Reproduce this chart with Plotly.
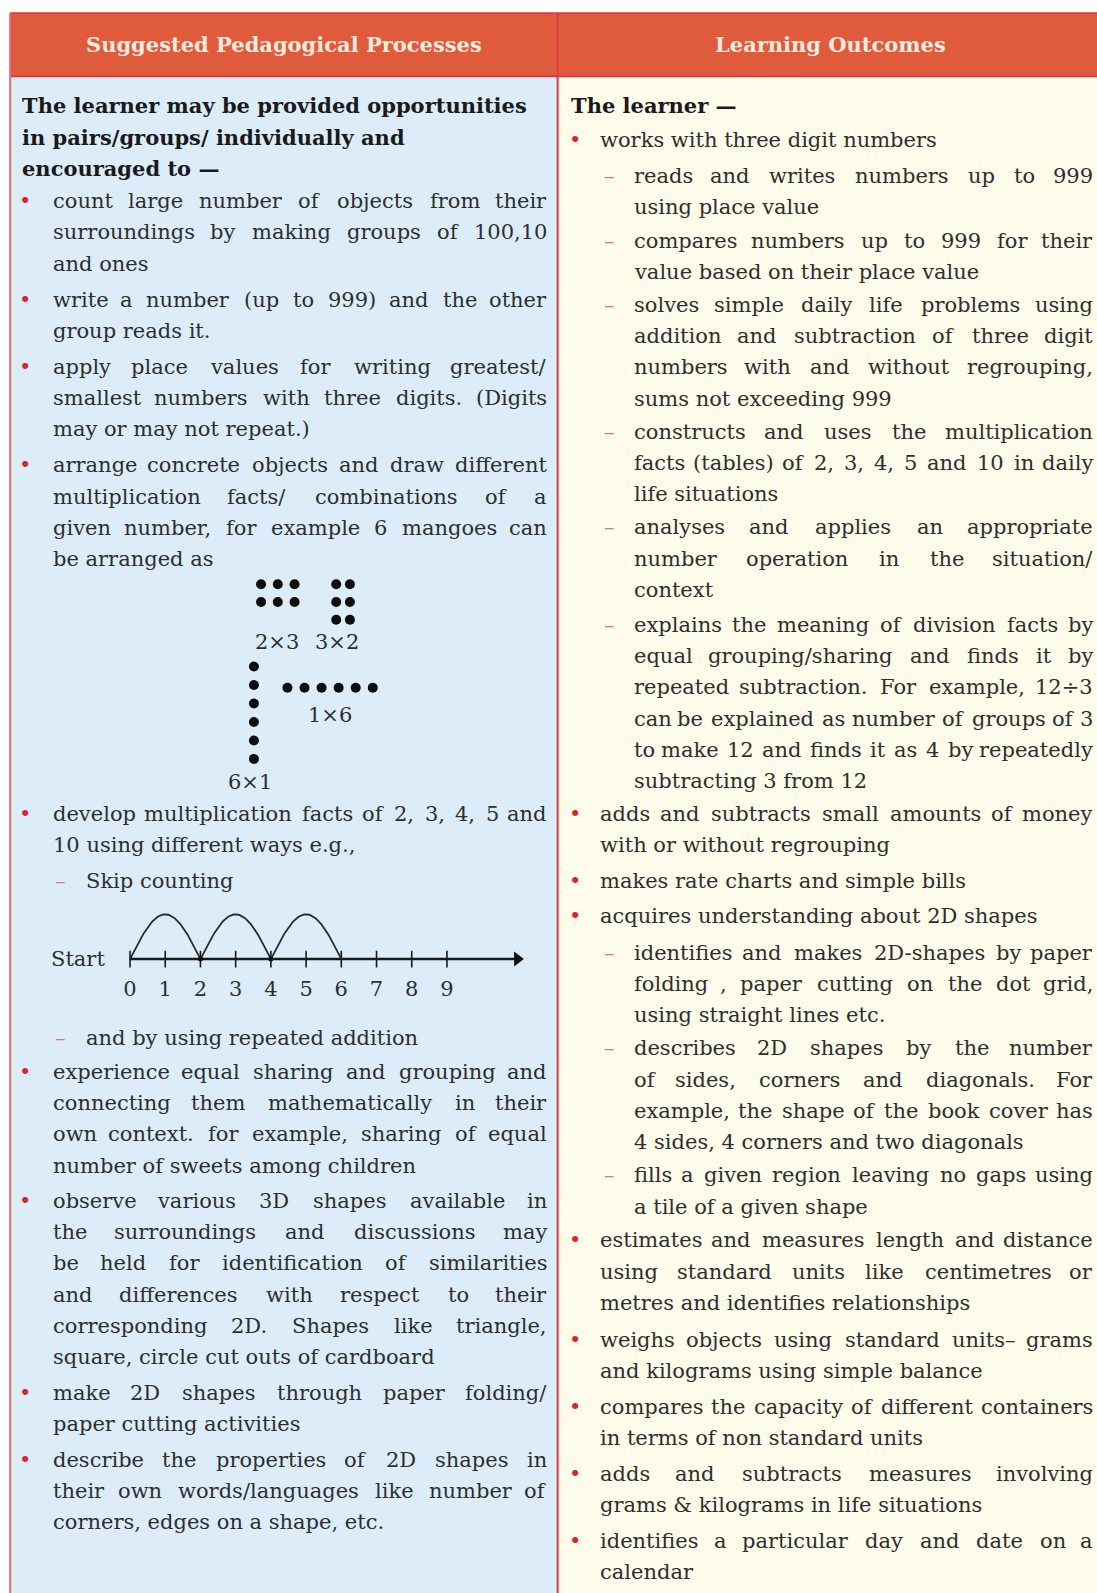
import numpy as np
import plotly.graph_objects as go

# reference units: the page is laid out on a 1080 x 1568 grid (drawn at 1097 x 1593)
W, H = 1080, 1568
PX = 1097 / 1080          # screen px per reference unit

FONT = "DejaVu Serif"
FS = 21
TEXT = "#2e2e2e"
BOLD_TEXT = "#1a1a1a"
BULLET = "#d7262d"
DASH = "#e2727a"
RED = "#dc3b3f"
HEAD = "#e05a3c"
LEFT_BG = "#dcedf9"
RIGHT_BG = "#fdfbea"

header_left = "Suggested Pedagogical Processes"
header_right = "Learning Outcomes"

left_intro = ["The learner may be provided opportunities",
              "in pairs/groups/ individually and",
              "encouraged to —"]

# (kind, y of first line, lines)
left_items = [
    ("bullet", 198, ["count large number of objects from their",
                     "surroundings by making groups of 100,10",
                     "and ones"]),
    ("bullet", 295, ["write a number (up to 999) and the other",
                     "group reads it."]),
    ("bullet", 361, ["apply place values for writing greatest/",
                     "smallest numbers with three digits. (Digits",
                     "may or may not repeat.)"]),
    ("bullet", 458, ["arrange concrete objects and draw different",
                     "multiplication facts/ combinations of a",
                     "given number, for example 6 mangoes can",
                     "be arranged as"]),
    ("bullet", 801, ["develop multiplication facts of 2, 3, 4, 5 and",
                     "10 using different ways e.g.,"]),
    ("dash", 867, ["Skip counting"]),
    ("dash", 1022, ["and by using repeated addition"]),
    ("bullet", 1055, ["experience equal sharing and grouping and",
                      "connecting them mathematically in their",
                      "own context. for example, sharing of equal",
                      "number of sweets among children"]),
    ("bullet", 1182, ["observe various 3D shapes available in",
                      "the surroundings and discussions may",
                      "be held for identification of similarities",
                      "and differences with respect to their",
                      "corresponding 2D. Shapes like triangle,",
                      "square, circle cut outs of cardboard"]),
    ("bullet", 1371, ["make 2D shapes through paper folding/",
                      "paper cutting activities"]),
    ("bullet", 1437, ["describe the properties of 2D shapes in",
                      "their own words/languages like number of",
                      "corners, edges on a shape, etc."]),
]

right_intro = ["The learner —"]

right_items = [
    ("bullet", 138, ["works with three digit numbers"]),
    ("dash", 173, ["reads and writes numbers up to 999",
                   "using place value"]),
    ("dash", 237, ["compares numbers up to 999 for their",
                   "value based on their place value"]),
    ("dash", 300, ["solves simple daily life problems using",
                   "addition and subtraction of three digit",
                   "numbers with and without regrouping,",
                   "sums not exceeding 999"]),
    ("dash", 425, ["constructs and uses the multiplication",
                   "facts (tables) of 2, 3, 4, 5 and 10 in daily",
                   "life situations"]),
    ("dash", 519, ["analyses and applies an appropriate",
                   "number operation in the situation/",
                   "context"]),
    ("dash", 615, ["explains the meaning of division facts by",
                   "equal grouping/sharing and finds it by",
                   "repeated subtraction. For example, 12÷3",
                   "can be explained as number of groups of 3",
                   "to make 12 and finds it as 4 by repeatedly",
                   "subtracting 3 from 12"]),
    ("bullet", 801, ["adds and subtracts small amounts of money",
                     "with or without regrouping"]),
    ("bullet", 867, ["makes rate charts and simple bills"]),
    ("bullet", 902, ["acquires understanding about 2D shapes"]),
    ("dash", 938, ["identifies and makes 2D-shapes by paper",
                   "folding , paper cutting on the dot grid,",
                   "using straight lines etc."]),
    ("dash", 1032, ["describes 2D shapes by the number",
                    "of sides, corners and diagonals. For",
                    "example, the shape of the book cover has",
                    "4 sides, 4 corners and two diagonals"]),
    ("dash", 1157, ["fills a given region leaving no gaps using",
                    "a tile of a given shape"]),
    ("bullet", 1221, ["estimates and measures length and distance",
                      "using standard units like centimetres or",
                      "metres and identifies relationships"]),
    ("bullet", 1319, ["weighs objects using standard units– grams",
                      "and kilograms using simple balance"]),
    ("bullet", 1385, ["compares the capacity of different containers",
                      "in terms of non standard units"]),
    ("bullet", 1451, ["adds and subtracts measures involving",
                      "grams & kilograms in life situations"]),
    ("bullet", 1517, ["identifies a particular day and date on a",
                      "calendar"]),
]

# dot arrangements of 6 mangoes: label, rows, cols
dot_sets = [("2×3", 2, 3), ("3×2", 3, 2), ("1×6", 1, 6), ("6×1", 6, 1)]
dot_origin = [(257, 575), (331, 575), (283, 677), (250, 656)]
dot_step = [(16.5, 17.5), (13.5, 17.5), (16.8, 0), (0, 18.2)]
dot_label_pos = [(273, 632), (332, 632), (325, 704), (246, 770)]

# skip counting number line
nl_ticks = list(range(10))
nl_jumps = [0, 2, 4, 6]

LINE = 30.75

# rough DejaVu Serif advance widths (em)
CW = dict(zip("abcdefghijklmnopqrstuvwxyz",
              [.596, .640, .560, .640, .592, .370, .640, .644, .320, .316, .609, .320, .948,
               .644, .602, .640, .640, .478, .513, .402, .644, .565, .856, .564, .565, .523]))
CW.update(dict(zip("ABCDEFGHIJKLMNOPQRSTUVWXYZ",
                   [.722, .735, .765, .802, .730, .694, .799, .872, .395, .401, .747, .664, 1.024,
                    .875, .820, .673, .820, .753, .685, .667, .843, .722, 1.028, .712, .660, .695])))
CW.update({d: .636 for d in "0123456789"})
CW.update({" ": .318, ",": .318, ".": .318, "/": .337, "(": .390, ")": .390, "–": .5,
           "—": 1.0, "÷": .838, "×": .838, "&": .890, "-": .338})


def word_w(s, size=FS):
    return sum(CW.get(c, .6) for c in s) * size / PX


annotations = []


def add_text(x, y, s, anchor="left", bold=False, color=TEXT, size=FS):
    s = s.replace("&", "&amp;")
    annotations.append(dict(x=x, y=y, xref="x", yref="y", showarrow=False,
                            text=f"<b>{s}</b>" if bold else s,
                            xanchor=anchor, yanchor="middle",
                            font=dict(family=FONT, size=size, color=color)))


def add_line(s, x0, x1, y, justify):
    words = s.split()
    if not justify or len(words) < 2:
        add_text(x0, y, s)
        return
    ws = [word_w(w) for w in words]
    gap = (x1 - x0 - sum(ws)) / (len(words) - 1)
    x = x0
    for i, (w, wd) in enumerate(zip(words, ws)):
        if i == 0:
            add_text(x0, y, w, "left")
        elif i == len(words) - 1:
            add_text(x1, y, w, "right")
        else:
            add_text(x + wd / 2, y, w, "center")
        x += wd + gap


def add_column(items, mark_x, text_x, dash_x, dash_text_x, right_x):
    for kind, y0, lines in items:
        if kind == "bullet":
            add_text(mark_x, y0, "•", "center", color=BULLET, size=FS)
            tx = text_x
        else:
            add_text(dash_x, y0, "–", "center", color=DASH, size=FS)
            tx = dash_text_x
        for i, s in enumerate(lines):
            add_line(s, tx, right_x, y0 + i * LINE, i < len(lines) - 1)


# header and intros
add_text(280, 44, header_left, "center", bold=True, color="#fcebdf", size=21)
add_text(818, 44, header_right, "center", bold=True, color="#fcebdf", size=21)
for i, s in enumerate(left_intro):
    add_text(20, 104 + i * 31, s, bold=True, color=BOLD_TEXT)
for i, s in enumerate(right_intro):
    add_text(560, 104 + i * 31, s, bold=True, color=BOLD_TEXT)

add_column(left_items, 25, 50, 60, 83, 540)
add_column(right_items, 566, 589, 600, 622, 1078)

fig = go.Figure()

# dot arrangements
for (label, rows, cols), (ox, oy), (sx, sy), (lx, ly) in zip(dot_sets, dot_origin, dot_step, dot_label_pos):
    cx, cy = np.meshgrid(np.arange(cols), np.arange(rows))
    fig.add_trace(go.Scatter(x=ox + cx.ravel() * sx, y=oy + cy.ravel() * sy, mode="markers",
                             marker=dict(size=10, color="#0d0d0d"), hoverinfo="skip"))
    add_text(lx, ly, label, "center")

# number line on its own axes
add_text(77, 944, "Start", "center")
nl_end = 11.0
fig.add_trace(go.Scatter(x=[0, nl_end], y=[0, 0], mode="lines", xaxis="x2", yaxis="y2",
                         line=dict(color="#1a1a1a", width=2.5), hoverinfo="skip"))
fig.add_trace(go.Scatter(x=[nl_end], y=[0], mode="markers", xaxis="x2", yaxis="y2",
                         marker=dict(symbol="triangle-right", size=13, color="#111111"),
                         hoverinfo="skip"))
fig.add_trace(go.Scatter(x=nl_ticks, y=[0] * len(nl_ticks), mode="markers", xaxis="x2", yaxis="y2",
                         marker=dict(symbol="line-ns", size=12, line=dict(width=1.6, color="#1a1a1a")),
                         hoverinfo="skip"))
fig.add_trace(go.Scatter(x=nl_ticks, y=[-0.71] * len(nl_ticks), mode="text", xaxis="x2", yaxis="y2",
                         text=[str(t) for t in nl_ticks], textposition="middle center",
                         textfont=dict(family=FONT, size=FS, color=TEXT), hoverinfo="skip"))
t = np.linspace(0, 1, 60)
for a, b in zip(nl_jumps[:-1], nl_jumps[1:]):
    fig.add_trace(go.Scatter(x=a + (b - a) * t, y=np.sin(np.pi * t), mode="lines",
                             xaxis="x2", yaxis="y2", line=dict(color="#2a2a2a", width=1.8),
                             hoverinfo="skip"))
fig.add_trace(go.Scatter(x=nl_jumps[1:-1], y=[0] * (len(nl_jumps) - 2), mode="markers",
                         xaxis="x2", yaxis="y2", marker=dict(size=5, color="#111111"),
                         hoverinfo="skip"))

# table backgrounds and rules
shapes = [
    dict(type="rect", x0=10, x1=549, y0=75, y1=H + 5, fillcolor=LEFT_BG, line_width=0),
    dict(type="rect", x0=549, x1=W + 5, y0=75, y1=H + 5, fillcolor=RIGHT_BG, line_width=0),
    dict(type="rect", x0=10, x1=W + 5, y0=13, y1=75, fillcolor=HEAD, line_width=0),
    dict(type="line", x0=10, x1=W + 5, y0=13, y1=13, line=dict(color=RED, width=2)),
    dict(type="line", x0=10, x1=W + 5, y0=75, y1=75, line=dict(color=RED, width=2)),
    dict(type="line", x0=10, x1=10, y0=13, y1=H + 5, line=dict(color="#e36b72", width=2)),
    dict(type="line", x0=549, x1=549, y0=13, y1=H + 5, line=dict(color=RED, width=2)),
]
for s in shapes:
    s.update(xref="x", yref="y", layer="below")

x2_px = (100, 540)
y2_px = (885, 1000)
nl_x0, nl_step = 128, 34.67
nl_y0, nl_unit = 944, 44

fig.update_layout(
    width=1097, height=1593, margin=dict(l=0, r=0, t=0, b=0),
    paper_bgcolor="white", plot_bgcolor="rgba(0,0,0,0)", showlegend=False,
    xaxis=dict(range=[0, W], visible=False),
    yaxis=dict(range=[H, 0], visible=False),
    xaxis2=dict(domain=[x2_px[0] / W, x2_px[1] / W], anchor="y2", visible=False,
                range=[(x2_px[0] - nl_x0) / nl_step, (x2_px[1] - nl_x0) / nl_step]),
    yaxis2=dict(domain=[1 - y2_px[1] / H, 1 - y2_px[0] / H], anchor="x2", visible=False,
                range=[-(y2_px[1] - nl_y0) / nl_unit, (nl_y0 - y2_px[0]) / nl_unit]),
    shapes=shapes, annotations=annotations,
)

# the page's default body margin would shift the figure by 8px
fig.write_html("out.html", config={"displayModeBar": False},
               post_script="document.body.style.margin = '0px';")
